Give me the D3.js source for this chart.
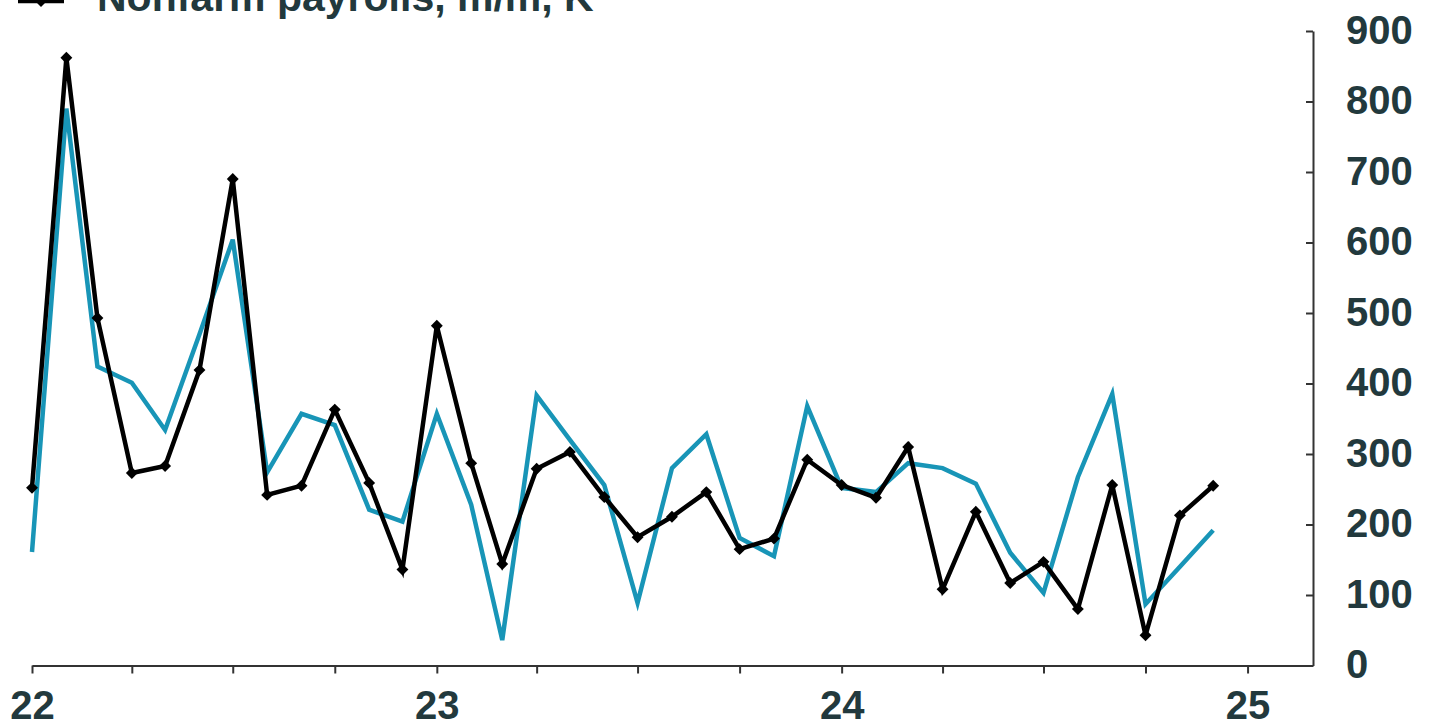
<!DOCTYPE html>
<html>
<head>
<meta charset="utf-8">
<script src="https://cdn.jsdelivr.net/npm/d3@7"></script>
<style>
  html, body { margin: 0; padding: 0; background: #fff; }
  svg { display: block; }
  text { font-family: "Liberation Sans", Arial, sans-serif; font-weight: bold; }
</style>
</head>
<body>
<svg id="chart" width="1437" height="727"></svg>
<script>
// ---- Data ----
const months = [
  "2022-01","2022-02","2022-03","2022-04","2022-05","2022-06","2022-07","2022-08","2022-09","2022-10","2022-11","2022-12",
  "2023-01","2023-02","2023-03","2023-04","2023-05","2023-06","2023-07","2023-08","2023-09","2023-10","2023-11","2023-12",
  "2024-01","2024-02","2024-03","2024-04","2024-05","2024-06","2024-07","2024-08","2024-09","2024-10","2024-11","2024-12"
];
const nonfarmPayrolls = [
  252, 862, 493, 273, 283, 419, 690, 242, 255, 363, 259, 136,
  482, 287, 144, 279, 303, 239, 182, 211, 246, 165, 180, 292,
  256, 238, 310, 108, 218, 117, 147, 80, 256, 43, 213, 255
];
const secondSeries = [
  161, 790, 424, 401, 334, 470, 604, 274, 357, 341, 221, 204,
  357, 228, 36, 383, 320, 256, 89, 280, 328, 181, 155, 368,
  252, 246, 287, 280, 258, 160, 103, 267, 385, 87, 140, 192
];
const yTicks = [0, 100, 200, 300, 400, 500, 600, 700, 800, 900];
const legendLabel = "Nonfarm payrolls, m/m, K";

// ---- Setup ----
const svg = d3.select("#chart");
const parse = d3.timeParse("%Y-%m");
const dates = months.map(parse);

const x = d3.scaleTime()
  .domain([new Date(2022, 0, 1), new Date(2025, 2, 1)])
  .range([32, 1313]);
const y = d3.scaleLinear().domain([0, 900]).range([665.5, 31]);

const textColor = "#22393d";
const axisColor = "#333";
const teal = "#1895b7";
const fontSize = "40px";

// Bottom axis
const xAxis = d3.axisBottom(x)
  .ticks(d3.timeMonth.every(3))
  .tickSize(8)
  .tickSizeOuter(0)
  .tickPadding(17)
  .tickFormat(d => d.getMonth() === 0 ? d3.timeFormat("%y")(d) : "");
const gx = svg.append("g")
  .attr("transform", `translate(0,${y(0)})`)
  .call(xAxis);
gx.select(".domain").attr("stroke", axisColor).attr("stroke-width", 2);
gx.selectAll(".tick line").attr("stroke", axisColor).attr("stroke-width", 2);
gx.selectAll(".tick text")
  .attr("fill", textColor)
  .style("font-size", fontSize)
  .style("font-weight", "bold")
  .style("font-family", "'Liberation Sans', Arial, sans-serif");

// Right axis
const yAxis = d3.axisRight(y)
  .tickValues(yTicks)
  .tickSizeInner(-7)
  .tickSizeOuter(0)
  .tickPadding(33);
const gy = svg.append("g")
  .attr("transform", `translate(${x.range()[1]},0)`)
  .call(yAxis);
gy.select(".domain").attr("stroke", axisColor).attr("stroke-width", 2);
gy.selectAll(".tick line").attr("stroke", axisColor).attr("stroke-width", 2);
gy.selectAll(".tick text")
  .attr("fill", textColor)
  .attr("text-anchor", "start")
  .attr("dy", "0.3em")
  .style("font-size", fontSize)
  .style("font-weight", "bold")
  .style("font-family", "'Liberation Sans', Arial, sans-serif");

// Lines
const line = d3.line()
  .x((d, i) => x(dates[i]))
  .y(d => y(d));

svg.append("path")
  .datum(secondSeries)
  .attr("fill", "none")
  .attr("stroke", teal)
  .attr("stroke-width", 4.5)
  .attr("stroke-linejoin", "miter")
  .attr("d", line);

svg.append("path")
  .datum(nonfarmPayrolls)
  .attr("fill", "none")
  .attr("stroke", "#000")
  .attr("stroke-width", 4.5)
  .attr("stroke-linejoin", "miter")
  .attr("d", line);

const diamond = d3.symbol().type(d3.symbolDiamond2).size(90);
svg.append("g")
  .selectAll("path")
  .data(nonfarmPayrolls)
  .join("path")
  .attr("transform", (d, i) => `translate(${x(dates[i])},${y(d)})`)
  .attr("d", diamond)
  .attr("fill", "#000");

// Legend (partially cropped at the top, as in the reference)
const lg = svg.append("g");
lg.append("line")
  .attr("x1", 18).attr("x2", 64)
  .attr("y1", 1).attr("y2", 1)
  .attr("stroke", "#000").attr("stroke-width", 4.5);
lg.append("path")
  .attr("transform", "translate(41,1)")
  .attr("d", diamond)
  .attr("fill", "#000");
lg.append("text")
  .attr("x", 97)
  .attr("y", 11)
  .attr("fill", textColor)
  .style("font-size", "41px")
  .text(legendLabel);
</script>
</body>
</html>
